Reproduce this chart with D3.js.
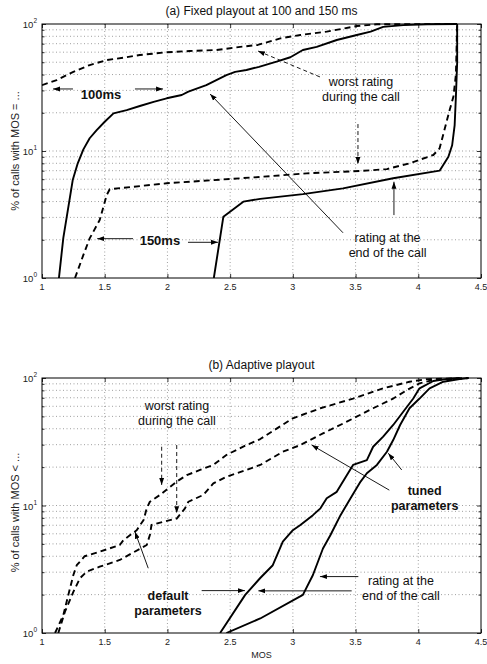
<!DOCTYPE html>
<html>
<head>
<meta charset="utf-8">
<script src="https://cdn.jsdelivr.net/npm/d3@7"></script>
<style>
  html, body { margin: 0; padding: 0; background: #fff; }
  svg { display: block; font-family: "Liberation Sans", Arial, Helvetica, sans-serif; }
</style>
</head>
<body>
<svg id="chart" width="487" height="664"></svg>
<script>
// ---- data: [MOS, % of calls] pairs ----
// (a) fixed playout
const fixed100End = [[1.135,1],[1.17,2.07],[1.245,5.9],[1.285,8.0],[1.33,10.3],[1.38,12.6],[1.436,14.6],[1.50,17.0],[1.57,19.8],[1.675,21],[1.78,22.6],[1.89,24.4],[1.994,26],[2.114,27.6],[2.167,29.3],[2.31,33],[2.39,36.2],[2.47,39.6],[2.54,42],[2.63,43.4],[2.73,46],[2.87,50.5],[2.98,54.7],[3.08,62.4],[3.19,66],[3.35,74.8],[3.51,81.9],[3.62,87],[3.72,95],[3.88,98],[4.07,99.5],[4.31,100]];
const fixed100Worst = [[1.0,33],[1.117,36.2],[1.25,42],[1.38,47.5],[1.516,52],[1.65,54.3],[1.78,57],[1.994,59.9],[2.18,61.3],[2.39,62.4],[2.58,66],[2.72,68.4],[2.9,77],[3.06,82],[3.27,87],[3.51,96.4],[3.67,99.5],[4.3,100]];
const fixed150End = [[2.37,1],[2.446,3.04],[2.605,3.99],[2.74,4.2],[3.08,4.58],[3.40,5.08],[3.80,6.1],[4.17,7.0],[4.24,9.0],[4.27,11.1],[4.29,16],[4.30,27],[4.31,50],[4.31,100]];
const fixed150Worst = [[1.263,1],[1.33,1.52],[1.38,2.05],[1.46,2.86],[1.516,4.5],[1.54,5.0],[1.994,5.57],[2.74,6.25],[3.11,6.67],[3.54,6.96],[3.75,7.2],[3.93,8.0],[4.12,9.3],[4.17,10.5],[4.25,21],[4.28,26.8],[4.30,40],[4.31,100]];

// (b) adaptive playout
const defaultWorst = [[1.104,1],[1.17,1.38],[1.21,1.99],[1.25,2.85],[1.277,3.4],[1.34,4.0],[1.46,4.34],[1.62,4.9],[1.65,5.36],[1.755,6.4],[1.81,7.7],[1.835,9.5],[1.86,10.7],[1.94,12.1],[2.074,15.4],[2.154,17.3],[2.26,19],[2.366,20.8],[2.47,24.9],[2.63,29.8],[2.74,33.2],[3.0,48.3],[3.22,57.9],[3.48,69],[3.72,83],[3.93,93.5],[4.07,98],[4.4,100]];
const tunedWorst = [[1.13,1],[1.183,1.47],[1.25,2.1],[1.303,2.69],[1.356,3.03],[1.46,3.31],[1.62,3.74],[1.835,4.9],[1.86,5.87],[1.873,7.03],[1.967,7.46],[2.074,7.9],[2.14,9.5],[2.167,10.7],[2.286,12.1],[2.366,14.9],[2.47,16.8],[2.63,19],[2.74,20.8],[2.92,26.4],[3.06,29.8],[3.24,36.8],[3.43,45.4],[3.64,57.9],[3.8,69],[3.91,80.5],[4.01,90.8],[4.12,96.5],[4.33,98.5],[4.4,100]];
const defaultEnd = [[2.42,1],[2.62,1.99],[2.74,2.7],[2.84,3.4],[2.92,5.2],[3.0,6.4],[3.06,7.03],[3.16,8.4],[3.22,9.5],[3.27,11.4],[3.35,12.8],[3.43,17.3],[3.48,20.8],[3.59,22.7],[3.64,28.9],[3.72,34.7],[3.80,42.8],[3.88,54.4],[3.96,69],[4.01,83],[4.12,94.7],[4.23,98.5],[4.33,100]];
const tunedEnd = [[2.47,1],[2.74,1.3],[3.08,1.99],[3.16,2.85],[3.24,4.6],[3.30,5.87],[3.38,8.4],[3.46,11.4],[3.54,15.4],[3.59,17.9],[3.67,20.8],[3.75,26.4],[3.80,32.6],[3.855,42.8],[3.93,57.9],[4.01,69],[4.09,83],[4.20,93.5],[4.33,98.3],[4.4,100]];

// ---- axis ticks ----
const xTicks = [1, 1.5, 2, 2.5, 3, 3.5, 4, 4.5];
const xTickLabels = ["1", "1.5", "2", "2.5", "3", "3.5", "4", "4.5"];
const yMajor = [1, 10, 100];
const yExponents = ["0", "1", "2"];
const yMinor = [2,3,4,5,6,7,8,9,20,30,40,50,60,70,80,90];

const svg = d3.select("#chart");
const left = 42, right = 481;

function panel(opt) {
  const x = d3.scaleLinear().domain([1, 4.5]).range([left, right]);
  const y = d3.scaleLog().domain([1, 100]).range([opt.bottom, opt.top]);
  const g = svg.append("g");

  // dotted grid
  const grid = g.append("g").attr("stroke", "#777").attr("stroke-width", 0.7)
    .attr("stroke-dasharray", "1,2.5").attr("fill", "none");
  xTicks.slice(1, -1).forEach(t => grid.append("line")
    .attr("x1", x(t)).attr("x2", x(t)).attr("y1", opt.top).attr("y2", opt.bottom));
  yMinor.concat([10]).forEach(t => grid.append("line")
    .attr("x1", left).attr("x2", right).attr("y1", y(t)).attr("y2", y(t)));

  // inward ticks on all four sides
  const axB = d3.axisTop(x).tickValues(xTicks).tickSize(4).tickFormat("");
  const axT = d3.axisBottom(x).tickValues(xTicks).tickSize(4).tickFormat("");
  g.append("g").attr("transform", `translate(0,${opt.bottom})`).call(axB).call(a => a.select(".domain").remove());
  g.append("g").attr("transform", `translate(0,${opt.top})`).call(axT).call(a => a.select(".domain").remove());
  const ayL = d3.axisRight(y).tickValues(yMajor).tickSize(4).tickFormat("");
  const ayR = d3.axisLeft(y).tickValues(yMajor).tickSize(4).tickFormat("");
  const ayLm = d3.axisRight(y).tickValues(yMinor).tickSize(2.5).tickFormat("");
  const ayRm = d3.axisLeft(y).tickValues(yMinor).tickSize(2.5).tickFormat("");
  [[ayL, left], [ayLm, left], [ayR, right], [ayRm, right]].forEach(([ax, px]) =>
    g.append("g").attr("transform", `translate(${px},0)`).call(ax).call(a => a.select(".domain").remove()));
  g.selectAll(".tick line").attr("stroke", "#000").attr("stroke-width", 0.8);

  // frame
  g.append("rect").attr("x", left).attr("y", opt.top).attr("width", right - left)
    .attr("height", opt.bottom - opt.top).attr("fill", "none").attr("stroke", "#000").attr("stroke-width", 1);

  // tick labels
  g.append("g").selectAll("text").data(xTicks).join("text")
    .attr("x", d => x(d)).attr("y", opt.bottom + 12).attr("text-anchor", "middle")
    .attr("font-size", 9).attr("fill", "#222").text((d, i) => xTickLabels[i]);
  const yl = g.append("g").selectAll("text").data(yMajor).join("text")
    .attr("x", left - 5).attr("y", d => y(d) + 4).attr("text-anchor", "end")
    .attr("font-size", 9.5).attr("fill", "#222");
  yl.append("tspan").text("10");
  yl.append("tspan").attr("dy", -5).attr("font-size", 6.5).text((d, i) => yExponents[i]);

  // title and y label
  g.append("text").attr("x", (left + right) / 2).attr("y", opt.top - 9).attr("text-anchor", "middle")
    .attr("font-size", 12).attr("fill", "#111").text(opt.title);
  g.append("text").attr("transform", `translate(19,${(opt.top + opt.bottom) / 2 + opt.labelShift}) rotate(-90)`)
    .attr("text-anchor", "middle").attr("font-size", 11).attr("fill", "#222").text(opt.ylabel);

  // curves
  const line = d3.line().x(d => x(d[0])).y(d => y(d[1]));
  const clipId = "clip" + opt.top;
  g.append("clipPath").attr("id", clipId).append("rect")
    .attr("x", left).attr("y", opt.top - 1).attr("width", right - left).attr("height", opt.bottom - opt.top + 1);
  const cg = g.append("g").attr("clip-path", `url(#${clipId})`);
  opt.series.forEach(s => cg.append("path").datum(s.data).attr("d", line)
    .attr("fill", "none").attr("stroke", "#000").attr("stroke-width", 1.9)
    .attr("stroke-linejoin", "round")
    .attr("stroke-dasharray", s.dashed ? "6,4" : null));

  return { g, x, y };
}

// arrowhead marker
const defs = svg.append("defs");
defs.append("marker").attr("id", "head").attr("viewBox", "0 0 10 10").attr("refX", 10).attr("refY", 5)
  .attr("markerWidth", 7).attr("markerHeight", 7).attr("markerUnits", "userSpaceOnUse").attr("orient", "auto")
  .append("path").attr("d", "M0,1.5 L10,5 L0,8.5 Z").attr("fill", "#000");

function arrow(p, from, to, dashed) {
  p.g.append("line").attr("x1", p.x(from[0])).attr("y1", p.y(from[1]))
    .attr("x2", p.x(to[0])).attr("y2", p.y(to[1]))
    .attr("stroke", "#000").attr("stroke-width", 0.9)
    .attr("stroke-dasharray", dashed ? "4,3" : null)
    .attr("marker-end", "url(#head)");
}
function label(p, at, lines, bold, size) {
  const t = p.g.append("text").attr("x", p.x(at[0])).attr("y", p.y(at[1]))
    .attr("text-anchor", "middle").attr("font-size", size || 12.5)
    .attr("font-weight", bold ? "bold" : "normal").attr("fill", "#111");
  lines.forEach((s, i) => t.append("tspan").attr("x", p.x(at[0])).attr("dy", i === 0 ? "0.35em" : "1.2em").text(s));
}

// (a)
const pa = panel({
  top: 24, bottom: 278, labelShift: 0,
  title: "(a) Fixed playout at 100 and 150 ms",
  ylabel: "% of calls with MOS = ...",
  series: [
    { data: fixed100Worst, dashed: true },
    { data: fixed100End, dashed: false },
    { data: fixed150Worst, dashed: true },
    { data: fixed150End, dashed: false }
  ]
});
label(pa, [1.47, 28.1], ["100ms"], true, 13);
arrow(pa, [1.247, 30.8], [1.088, 30.8]);
arrow(pa, [1.741, 30.8], [1.965, 30.8]);
label(pa, [1.94, 1.99], ["150ms"], true, 13);
arrow(pa, [1.726, 2.04], [1.44, 2.04]);
arrow(pa, [2.164, 1.91], [2.403, 1.91]);
label(pa, [3.543, 34.9], ["worst rating", "during the call"]);
arrow(pa, [3.216, 38.3], [2.722, 61.3], true);
arrow(pa, [3.519, 16.3], [3.519, 7.9], true);
label(pa, [3.755, 2.08], ["rating at the", "end of the call"]);
arrow(pa, [3.4, 2.27], [2.34, 28.1]);
arrow(pa, [3.806, 3.13], [3.806, 5.73]);

// (b)
const pb = panel({
  top: 378, bottom: 633, labelShift: 7,
  title: "(b) Adaptive playout",
  ylabel: "% of calls with MOS < ...",
  series: [
    { data: defaultWorst, dashed: true },
    { data: tunedWorst, dashed: true },
    { data: defaultEnd, dashed: false },
    { data: tunedEnd, dashed: false }
  ]
});
label(pb, [2.076, 60.6], ["worst rating", "during the call"]);
arrow(pb, [1.954, 28.9], [1.954, 14.5], true);
arrow(pb, [2.074, 29.8], [2.074, 8.7], true);
label(pb, [2.005, 1.95], ["default", "parameters"], true);
arrow(pb, [2.273, 2.15], [2.618, 2.15]);
arrow(pb, [3.469, 2.14], [2.725, 2.14]);
arrow(pb, [1.847, 3.22], [1.741, 6.23]);
label(pb, [3.862, 2.57], ["rating at the", "end of the call"]);
arrow(pb, [3.522, 2.77], [3.216, 2.77]);
label(pb, [4.051, 13.1], ["tuned", "parameters"], true);
arrow(pb, [3.769, 13.2], [3.15, 29.8]);
arrow(pb, [3.868, 19], [3.761, 25.7]);

svg.append("text").attr("x", (left + right) / 2).attr("y", 658).attr("text-anchor", "middle")
  .attr("font-size", 9).attr("fill", "#222").text("MOS");
</script>
</body>
</html>
